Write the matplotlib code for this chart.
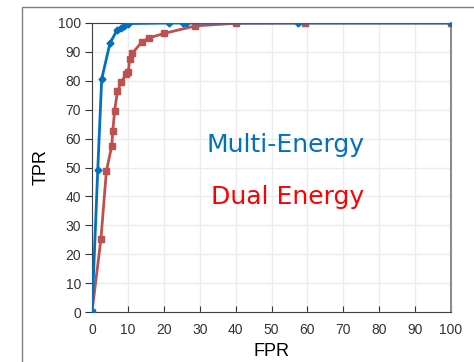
import numpy as np
import matplotlib
matplotlib.use('Agg')
import matplotlib.pyplot as plt
from matplotlib.patches import Rectangle

# ROC points
multi_fpr = [0, 1.6, 2.7, 5.0, 7.0, 8.0, 9.0, 10.1, 21.5, 25.4, 26.1, 57.3, 100]
multi_tpr = [0, 49.1, 80.6, 93.0, 97.6, 98.2, 99.0, 99.8, 100, 100, 100, 100, 100]

dual_fpr = [0, 2.5, 4.0, 5.5, 5.8, 6.3, 7.1, 8.2, 9.4, 10.1, 10.5, 11.2, 13.8, 15.8, 20.1, 28.8, 40.0, 59.4, 100]
dual_tpr = [0, 25.4, 48.7, 57.5, 62.7, 69.6, 76.5, 79.5, 82.2, 83.1, 87.5, 89.5, 93.3, 94.8, 96.4, 99.0, 99.9, 100, 100]

ticks = list(range(0, 101, 10))

fig = plt.figure(figsize=(4.74, 3.62), dpi=100)
fig.patches.append(Rectangle((22/474, -0.1), 1.2, 1 - 7/362 + 0.1, transform=fig.transFigure,
                             fill=False, edgecolor='#7f7f7f', linewidth=1.0))
ax = fig.add_axes([92/474, 1 - 312/362, 359/474, 289/362])

ax.plot(dual_fpr, dual_tpr, color='#C0504D', marker='s', markersize=4.5, linewidth=2, zorder=3)
ax.plot(multi_fpr, multi_tpr, color='#0070C0', marker='D', markersize=3.5, linewidth=2, zorder=4)

ax.set_xlim(0, 100)
ax.set_ylim(0, 100)
ax.set_xticks(ticks)
ax.set_yticks(ticks)
ax.grid(True, color='#ececec', linewidth=1)
ax.set_axisbelow(True)
ax.tick_params(axis='x', direction='in', length=4, labelsize=10, colors='#333333', pad=8)
ax.tick_params(axis='y', direction='out', length=5, labelsize=10, colors='#333333', pad=3)
for tl in ax.get_xticklabels() + ax.get_yticklabels():
    tl.set_family('Liberation Sans')
for s in ['left', 'bottom', 'top']:
    ax.spines[s].set_color('#404040')
ax.spines['right'].set_color('#8c8c8c')
ax.spines['right'].set_linewidth(1.5)

ax.set_xlabel('FPR', fontsize=13, family='Liberation Sans', labelpad=4)
ax.set_ylabel('TPR', fontsize=13, family='Liberation Sans', labelpad=6)

ax.text(53.9, 57.8, 'Multi-Energy', color='#0070C0', fontsize=18, ha='center', va='center')
ax.text(54.4, 39.8, 'Dual Energy', color='#FF0000', fontsize=18, ha='center', va='center')

fig.savefig('out.png', dpi=100)
